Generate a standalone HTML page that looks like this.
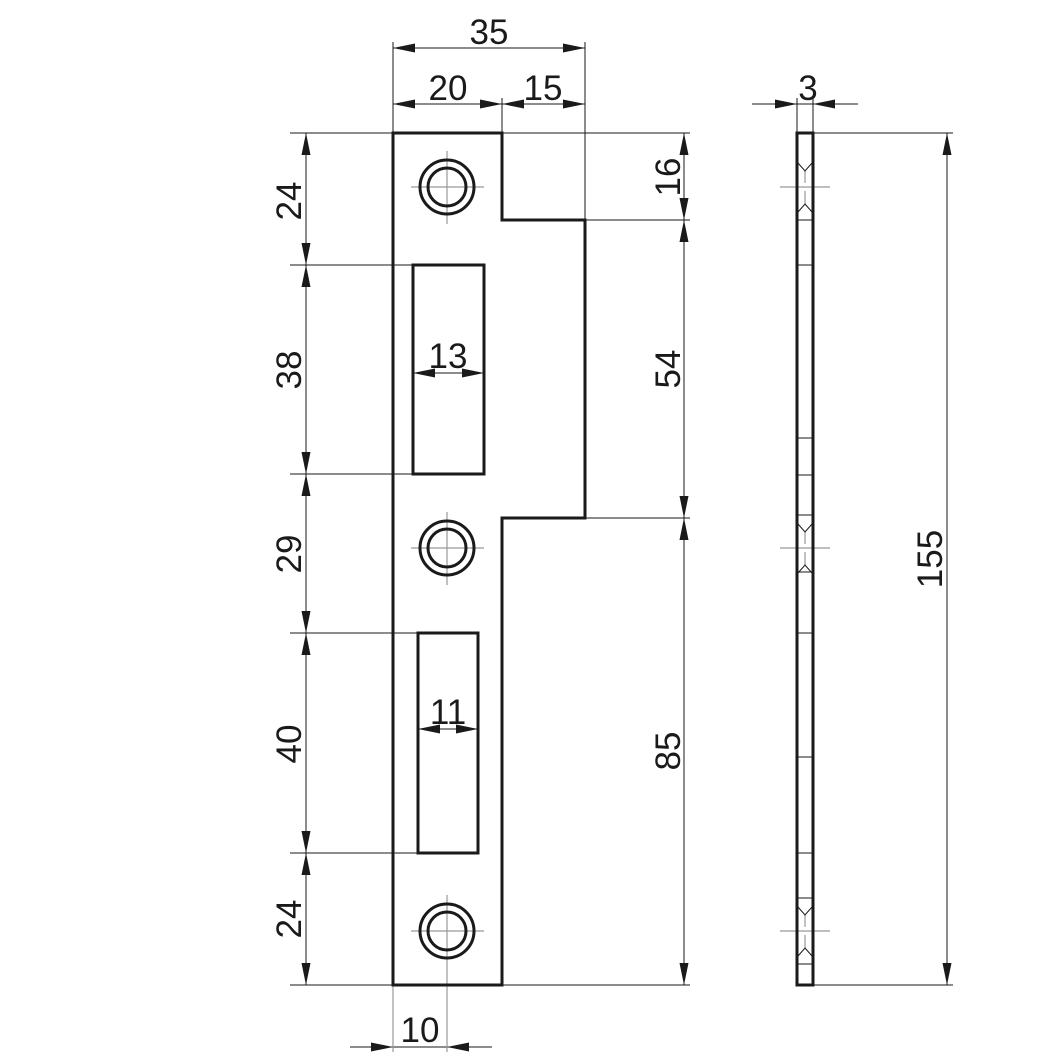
<!DOCTYPE html>
<html><head><meta charset="utf-8"><style>html,body{margin:0;padding:0;background:#fff}svg{display:block}</style></head>
<body>
<svg width="1063" height="1063" viewBox="0 0 1063 1063" xmlns="http://www.w3.org/2000/svg" font-family="Liberation Sans, Arial, sans-serif" font-size="35" fill="#1a1a1a">
<defs>
<path id="au" d="M0,0 L-4.5,22 L4.5,22 Z" fill="#1a1a1a"/>
</defs>
<g stroke="#1a1a1a" stroke-width="1" fill="none">
<line x1="290" y1="133" x2="393" y2="133"/>
<line x1="290" y1="265" x2="413" y2="265"/>
<line x1="290" y1="474" x2="413" y2="474"/>
<line x1="290" y1="633" x2="418" y2="633"/>
<line x1="290" y1="853" x2="418" y2="853"/>
<line x1="290" y1="985" x2="393" y2="985"/>
<line x1="502" y1="133" x2="690" y2="133"/>
<line x1="585" y1="220" x2="690" y2="220"/>
<line x1="585" y1="518" x2="690" y2="518"/>
<line x1="502" y1="985" x2="690" y2="985"/>
<line x1="813" y1="133" x2="953" y2="133"/>
<line x1="813" y1="985" x2="953" y2="985"/>
<line x1="393" y1="42" x2="393" y2="133"/>
<line x1="585" y1="42" x2="585" y2="220"/>
<line x1="502" y1="98" x2="502" y2="133"/>
<line x1="797" y1="98" x2="797" y2="133"/>
<line x1="813" y1="98" x2="813" y2="133"/>
<line x1="306" y1="133" x2="306" y2="985"/>
<line x1="684" y1="133" x2="684" y2="985"/>
<line x1="947" y1="133" x2="947" y2="985"/>
<line x1="393" y1="48" x2="585" y2="48"/>
<line x1="393" y1="104" x2="585" y2="104"/>
<line x1="752" y1="104" x2="858" y2="104"/>
<line x1="413" y1="373" x2="484" y2="373"/>
<line x1="418" y1="729" x2="478" y2="729"/>
<line x1="350" y1="1047" x2="492" y2="1047"/>
</g>
<g stroke="#999" stroke-width="1.2">
<line x1="393" y1="985" x2="393" y2="1052"/>
<line x1="447" y1="895" x2="447" y2="1052"/>
<line x1="447" y1="151" x2="447" y2="224"/><line x1="411" y1="187" x2="484" y2="187"/>
<line x1="447" y1="512" x2="447" y2="585"/><line x1="411" y1="548" x2="484" y2="548"/>
<line x1="411" y1="931" x2="484" y2="931"/>
<line x1="780" y1="187" x2="830" y2="187"/>
<line x1="780" y1="548" x2="830" y2="548"/>
<line x1="780" y1="931" x2="830" y2="931"/>
<line x1="805" y1="170" x2="805" y2="183"/><line x1="805" y1="191" x2="805" y2="204"/>
<line x1="805" y1="531" x2="805" y2="544"/><line x1="805" y1="552" x2="805" y2="565"/>
<line x1="805" y1="914" x2="805" y2="927"/><line x1="805" y1="935" x2="805" y2="948"/>
</g>
<path d="M393,133 H502 V220 H585 V518 H502 V985 H393 Z" fill="none" stroke="#1a1a1a" stroke-width="3"/>
<rect x="413" y="265" width="71" height="209" fill="none" stroke="#1a1a1a" stroke-width="3"/>
<rect x="418" y="633" width="60" height="220" fill="none" stroke="#1a1a1a" stroke-width="3"/>
<g fill="none" stroke="#1a1a1a" stroke-width="3">
<circle cx="447" cy="187" r="27"/><circle cx="447" cy="187" r="19"/>
<circle cx="447" cy="548" r="27"/><circle cx="447" cy="548" r="19"/>
<circle cx="447" cy="931" r="27"/><circle cx="447" cy="931" r="19"/>
</g>
<rect x="797" y="133" width="16" height="852" fill="none" stroke="#1a1a1a" stroke-width="3"/>
<g stroke="#1a1a1a" stroke-width="1" fill="none">
<line x1="797" y1="220" x2="813" y2="220"/>
<line x1="797" y1="265" x2="813" y2="265"/>
<line x1="797" y1="438" x2="813" y2="438"/>
<line x1="797" y1="475" x2="813" y2="475"/>
<line x1="797" y1="515" x2="813" y2="515"/>
<line x1="797" y1="572" x2="813" y2="572"/>
<line x1="797" y1="633" x2="813" y2="633"/>
<line x1="797" y1="757" x2="813" y2="757"/>
<line x1="797" y1="853" x2="813" y2="853"/>
<line x1="797" y1="898" x2="813" y2="898"/>
<line x1="797" y1="964" x2="813" y2="964"/>
<path d="M798,163 L805,171 L812,163 M798,212 L805,204 L812,212"/>
<path d="M798,524 L805,532 L812,524 M798,573 L805,565 L812,573"/>
<path d="M798,907 L805,915 L812,907 M798,956 L805,948 L812,956"/>
</g>
<g>
<use href="#au" transform="translate(306,133)"/>
<use href="#au" transform="translate(306,265) rotate(180)"/>
<use href="#au" transform="translate(306,265)"/>
<use href="#au" transform="translate(306,474) rotate(180)"/>
<use href="#au" transform="translate(306,474)"/>
<use href="#au" transform="translate(306,633) rotate(180)"/>
<use href="#au" transform="translate(306,633)"/>
<use href="#au" transform="translate(306,853) rotate(180)"/>
<use href="#au" transform="translate(306,853)"/>
<use href="#au" transform="translate(306,985) rotate(180)"/>
<use href="#au" transform="translate(684,133)"/>
<use href="#au" transform="translate(684,220) rotate(180)"/>
<use href="#au" transform="translate(684,220)"/>
<use href="#au" transform="translate(684,518) rotate(180)"/>
<use href="#au" transform="translate(684,518)"/>
<use href="#au" transform="translate(684,985) rotate(180)"/>
<use href="#au" transform="translate(947,133)"/>
<use href="#au" transform="translate(947,985) rotate(180)"/>
<use href="#au" transform="translate(393,48) rotate(-90)"/>
<use href="#au" transform="translate(585,48) rotate(90)"/>
<use href="#au" transform="translate(393,104) rotate(-90)"/>
<use href="#au" transform="translate(502,104) rotate(90)"/>
<use href="#au" transform="translate(502,104) rotate(-90)"/>
<use href="#au" transform="translate(585,104) rotate(90)"/>
<use href="#au" transform="translate(797,104) rotate(90)"/>
<use href="#au" transform="translate(813,104) rotate(-90)"/>
<use href="#au" transform="translate(413,373) rotate(-90)"/>
<use href="#au" transform="translate(484,373) rotate(90)"/>
<use href="#au" transform="translate(418,729) rotate(-90)"/>
<use href="#au" transform="translate(478,729) rotate(90)"/>
<use href="#au" transform="translate(393,1047) rotate(90)"/>
<use href="#au" transform="translate(447,1047) rotate(-90)"/>
</g>
<g text-anchor="middle">
<text x="489" y="44">35</text>
<text x="448" y="100">20</text>
<text x="543" y="100">15</text>
<text x="808" y="100">3</text>
<text x="448" y="368">13</text>
<text x="448" y="724">11</text>
<text x="420" y="1042">10</text>
<text transform="translate(301,201) rotate(-90)">24</text>
<text transform="translate(301,370) rotate(-90)">38</text>
<text transform="translate(301,554) rotate(-90)">29</text>
<text transform="translate(301,744) rotate(-90)">40</text>
<text transform="translate(301,919) rotate(-90)">24</text>
<text transform="translate(680,177) rotate(-90)">16</text>
<text transform="translate(680,369) rotate(-90)">54</text>
<text transform="translate(680,751) rotate(-90)">85</text>
<text transform="translate(942,559) rotate(-90)">155</text>
</g>
</svg>
</body></html>
